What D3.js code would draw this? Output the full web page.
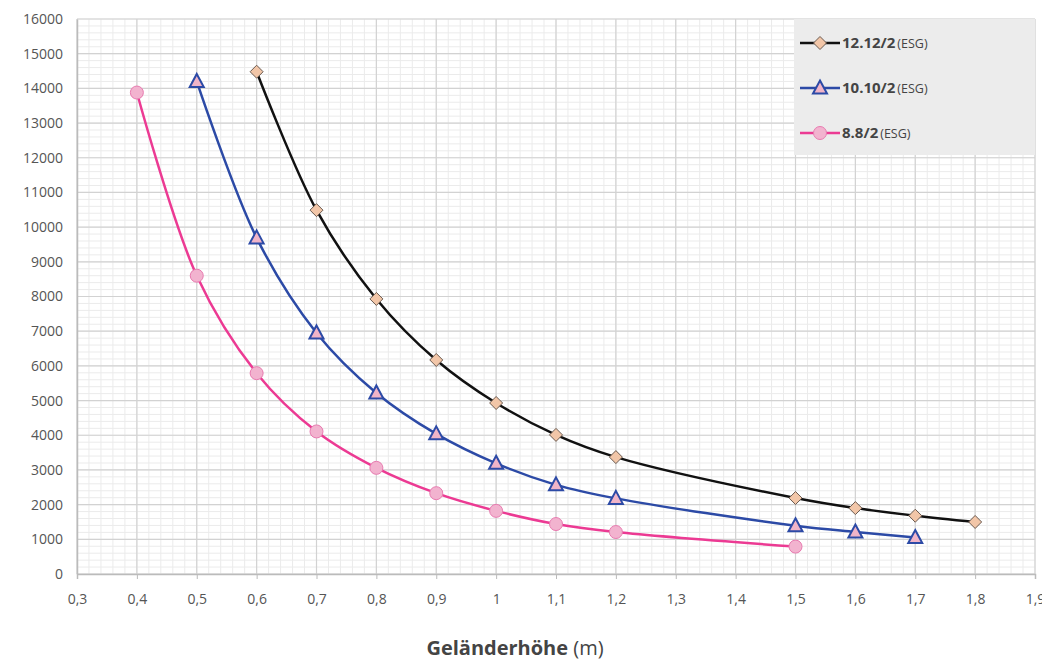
<!DOCTYPE html>
<html>
<head>
<meta charset="utf-8">
<script src="https://cdn.jsdelivr.net/npm/d3@7"></script>
<style>
  body { margin: 0; background: #fff; }
  text { font-family: "Open Sans", Lato, sans-serif; }
</style>
</head>
<body>
<svg id="svg" width="1042" height="664"></svg>
<script>
// data
let xTicks = [0.3, 0.4, 0.5, 0.6, 0.7, 0.8, 0.9, 1, 1.1, 1.2, 1.3, 1.4, 1.5, 1.6, 1.7, 1.8, 1.9];
let yTicks = [0, 1000, 2000, 3000, 4000, 5000, 6000, 7000, 8000, 9000, 10000, 11000, 12000, 13000, 14000, 15000, 16000];

let x12 = [0.6, 0.7, 0.8, 0.9, 1.0, 1.1, 1.2, 1.5, 1.6, 1.7, 1.8];
let y12 = [14480, 10490, 7930, 6170, 4930, 4010, 3370, 2190, 1900, 1680, 1500];

let x10 = [0.5, 0.6, 0.7, 0.8, 0.9, 1.0, 1.1, 1.2, 1.5, 1.6, 1.7];
let y10 = [14200, 9690, 6950, 5220, 4040, 3190, 2570, 2180, 1390, 1210, 1050];

let x8 = [0.4, 0.5, 0.6, 0.7, 0.8, 0.9, 1.0, 1.1, 1.2, 1.5];
let y8 = [13880, 8600, 5790, 4110, 3060, 2330, 1820, 1440, 1210, 790];

let seriesNames = ["12.12/2", "10.10/2", "8.8/2"];

let margin = { top: 19, right: 7, bottom: 90, left: 77 };
let width = 1042, height = 664;

let svg = d3.select("#svg");

let x = d3.scaleLinear().domain([0.3, 1.9]).range([margin.left, width - margin.right]);
let y = d3.scaleLinear().domain([0, 16000]).range([height - margin.bottom, margin.top]);

// minor grid
let minorX = d3.range(0, 81).map(i => 0.3 + i * 0.02);
let minorY = d3.range(0, 81).map(i => i * 200);

let grid = svg.append("g");
grid.selectAll(".mx").data(minorX).enter().append("line")
  .attr("x1", d => x(d)).attr("x2", d => x(d))
  .attr("y1", y(0)).attr("y2", y(16000))
  .attr("stroke", "#ebebeb").attr("stroke-width", 1);
grid.selectAll(".my").data(minorY).enter().append("line")
  .attr("x1", x(0.3)).attr("x2", x(1.9))
  .attr("y1", d => y(d)).attr("y2", d => y(d))
  .attr("stroke", "#ebebeb").attr("stroke-width", 1);
// major grid
grid.selectAll(".Mx").data(xTicks).enter().append("line")
  .attr("x1", d => x(d)).attr("x2", d => x(d))
  .attr("y1", y(0)).attr("y2", y(16000))
  .attr("stroke", "#d2d2d2").attr("stroke-width", 1.2);
grid.selectAll(".My").data(yTicks).enter().append("line")
  .attr("x1", x(0.3)).attr("x2", x(1.9))
  .attr("y1", d => y(d)).attr("y2", d => y(d))
  .attr("stroke", "#d2d2d2").attr("stroke-width", 1.2);

// axes
let xAxis = svg.append("g")
  .attr("transform", "translate(0," + y(0) + ")")
  .call(d3.axisBottom(x).tickValues(xTicks).tickSize(5).tickFormat(d => d3.format(".1~f")(d).replace(".", ",")));
xAxis.select(".domain").attr("stroke", "#bbb").attr("stroke-width", 1.5);
xAxis.selectAll(".tick line").attr("stroke", "#bbb");
xAxis.selectAll("text").attr("fill", "#555").attr("font-size", 14).attr("dy", "1.6em");

let yAxis = svg.append("g")
  .attr("transform", "translate(" + x(0.3) + ",0)")
  .call(d3.axisLeft(y).tickValues(yTicks).tickSize(0).tickPadding(14).tickFormat(d3.format("d")));
yAxis.select(".domain").attr("stroke", "#bbb").attr("stroke-width", 1.5);
yAxis.selectAll("text").attr("fill", "#555").attr("font-size", 14);

// legend background
let lg = svg.append("g");
lg.append("rect")
  .attr("x", 794).attr("y", 19).attr("width", 241).attr("height", 136)
  .attr("fill", "#ececec");

// series
let series = [
  { name: seriesNames[0], xs: x12, ys: y12, color: "#111", shape: "diamond", fill: "#f2c6a8", stroke: "#6a5a50" },
  { name: seriesNames[1], xs: x10, ys: y10, color: "#2c4aa6", shape: "triangle", fill: "#f0b4c8", stroke: "#2c4aa6" },
  { name: seriesNames[2], xs: x8, ys: y8, color: "#ec3a93", shape: "circle", fill: "#f2b3cf", stroke: "#e87bb0" }
];

let line = d3.line().x(d => x(d[0])).y(d => y(d[1])).curve(d3.curveCatmullRom.alpha(0.5));

function marker(g, s, cx, cy) {
  if (s.shape === "diamond") {
    g.append("path").attr("d", "M0,-6.5L6.5,0L0,6.5L-6.5,0Z")
      .attr("transform", "translate(" + cx + "," + cy + ")")
      .attr("fill", s.fill).attr("stroke", s.stroke).attr("stroke-width", 1);
  } else if (s.shape === "triangle") {
    g.append("path").attr("d", "M0,-7.5L7,5.5L-7,5.5Z")
      .attr("transform", "translate(" + cx + "," + cy + ")")
      .attr("fill", s.fill).attr("stroke", s.stroke).attr("stroke-width", 2);
  } else {
    g.append("circle").attr("cx", cx).attr("cy", cy).attr("r", 6.5)
      .attr("fill", s.fill).attr("stroke", s.stroke).attr("stroke-width", 1);
  }
}

series.forEach(function(s) {
  let pts = s.xs.map((v, i) => [v, s.ys[i]]);
  let g = svg.append("g");
  g.append("path").datum(pts).attr("d", line)
    .attr("fill", "none").attr("stroke", s.color).attr("stroke-width", 2.5);
  pts.forEach(p => marker(g, s, x(p[0]), y(p[1])));
});

// legend entries
series.forEach(function(s, i) {
  let ly = 43 + i * 45;
  lg.append("line").attr("x1", 800).attr("x2", 840).attr("y1", ly).attr("y2", ly)
    .attr("stroke", s.color).attr("stroke-width", 2.5);
  marker(lg, s, 820, ly);
  let t = lg.append("text").attr("x", 842).attr("y", ly + 5).attr("fill", "#444").attr("font-size", 15);
  t.append("tspan").attr("font-weight", "bold").text(s.name);
  t.append("tspan").attr("font-size", 12.5).attr("dx", 2).text("(ESG)");
});

// axis title
let title = svg.append("text").attr("x", 515).attr("y", 655).attr("text-anchor", "middle")
  .attr("fill", "#444").attr("font-size", 20);
title.append("tspan").attr("font-weight", "bold").text("Geländerhöhe");
title.append("tspan").text(" (m)");
</script>
</body>
</html>
